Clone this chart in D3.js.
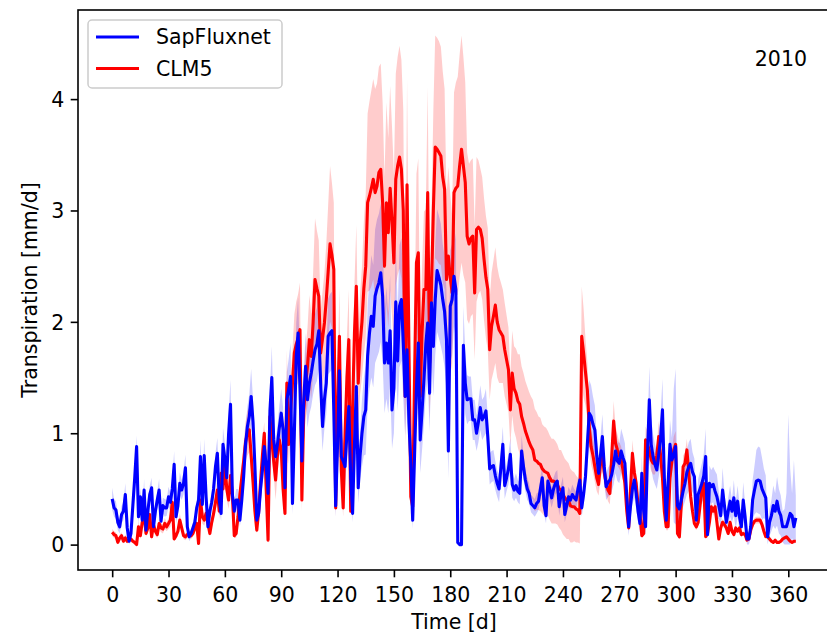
<!DOCTYPE html>
<html lang="en">
<head>
<meta charset="UTF-8" />
<title>Transpiration 2010</title>
<style>
  html, body { margin: 0; padding: 0; background: #fff; }
  svg { display: block; font-family: "DejaVu Sans", sans-serif; }
</style>
</head>
<body>
<svg width="827" height="636"></svg>
<script src="https://d3js.org/d3.v7.min.js"></script>
<script>
// daily transpiration [mm/d], day 0..364
const sapflux = [
  0.41,0.33,0.31,0.20,0.16,0.27,0.30,0.45,0.15,0.03,
  0.10,0.35,0.60,0.88,0.25,0.43,0.22,0.49,0.13,0.30,
  0.45,0.51,0.16,0.30,0.40,0.49,0.21,0.35,0.33,0.33,
  0.43,0.38,0.50,0.72,0.25,0.35,0.55,0.49,0.55,0.69,
  0.16,0.07,0.10,0.15,0.20,0.33,0.40,0.79,0.36,0.80,
  0.43,0.16,0.30,0.38,0.50,0.70,0.82,0.40,0.28,0.90,
  0.77,0.60,1.00,1.26,0.45,0.30,0.40,0.40,0.22,0.40,
  0.61,0.90,1.06,1.15,1.33,1.10,0.70,0.22,0.28,0.50,
  0.67,0.88,0.70,0.46,1.20,1.50,0.94,0.79,0.90,1.05,
  1.18,1.03,0.51,1.30,1.40,1.51,0.37,1.00,1.69,1.90,
  1.40,0.75,1.30,1.60,1.30,1.45,1.54,1.65,1.75,1.80,
  1.92,1.45,1.06,1.30,1.45,1.87,1.90,1.92,1.20,0.35,
  0.90,1.56,0.79,0.75,0.70,1.00,1.24,0.60,0.28,0.90,
  1.42,0.51,0.80,1.00,1.15,1.21,1.69,1.90,2.05,1.96,
  2.23,2.30,2.35,2.44,2.23,1.63,1.81,1.63,1.92,1.21,
  1.40,2.18,1.65,2.14,2.20,1.80,1.33,1.75,1.10,0.73,
  0.22,0.80,1.40,1.81,0.94,1.20,1.48,1.80,1.99,1.36,
  2.17,1.78,2.20,2.46,2.40,2.33,2.20,2.09,1.84,0.84,
  2.14,2.20,2.41,2.29,0.02,0.00,0.00,1.79,1.45,1.30,
  1.31,1.31,1.12,1.12,1.00,1.10,1.23,1.12,1.15,1.20,
  0.97,0.68,0.70,0.71,0.62,0.55,0.50,0.70,0.90,0.53,
  0.60,0.68,0.81,0.54,0.49,0.53,0.48,0.46,0.84,0.70,
  0.58,0.50,0.46,0.37,0.35,0.33,0.37,0.39,0.50,0.60,
  0.35,0.26,0.57,0.50,0.42,0.50,0.55,0.57,0.34,0.45,
  0.51,0.27,0.35,0.43,0.40,0.45,0.42,0.40,0.50,0.58,
  0.33,0.45,0.61,0.90,1.18,1.15,1.08,1.03,0.80,0.64,
  0.80,0.97,0.70,0.52,0.56,0.58,0.63,0.72,0.84,0.75,
  0.73,0.84,0.78,0.73,0.43,0.16,0.35,0.50,0.58,0.46,
  0.30,0.19,0.64,0.30,0.16,0.80,1.30,0.90,0.79,0.72,
  0.67,0.81,0.95,1.21,0.60,0.22,0.55,0.90,0.76,0.80,
  0.88,0.35,0.32,0.40,0.48,0.55,0.65,0.70,0.73,0.65,
  0.61,0.22,0.45,0.50,0.55,0.62,0.79,0.09,0.55,0.52,
  0.54,0.48,0.43,0.35,0.26,0.49,0.35,0.20,0.30,0.39,
  0.30,0.42,0.26,0.39,0.25,0.16,0.40,0.25,0.05,0.05,
  0.16,0.40,0.49,0.57,0.58,0.57,0.50,0.46,0.42,0.07,
  0.20,0.26,0.35,0.30,0.39,0.30,0.26,0.16,0.16,0.16,
  0.22,0.28,0.26,0.16,0.24
];

const sapfluxSpread = [
  0.10,0.08,0.08,0.07,0.06,0.08,0.08,0.10,0.06,0.04,
  0.05,0.08,0.10,0.10,0.07,0.08,0.06,0.10,0.05,0.06,
  0.08,0.09,0.05,0.07,0.08,0.10,0.06,0.07,0.08,0.07,
  0.09,0.08,0.09,0.12,0.06,0.08,0.10,0.09,0.10,0.12,
  0.05,0.04,0.04,0.05,0.06,0.07,0.08,0.15,0.08,0.15,
  0.09,0.05,0.07,0.08,0.10,0.12,0.14,0.08,0.07,0.15,
  0.14,0.12,0.18,0.22,0.10,0.08,0.10,0.10,0.06,0.10,
  0.12,0.15,0.18,0.20,0.25,0.20,0.14,0.06,0.07,0.10,
  0.14,0.16,0.14,0.10,0.20,0.28,0.18,0.15,0.17,0.20,
  0.22,0.20,0.12,0.25,0.27,0.30,0.10,0.20,0.30,0.32,
  0.27,0.16,0.25,0.30,0.25,0.28,0.30,0.30,0.32,0.33,
  0.35,0.28,0.22,0.26,0.28,0.34,0.35,0.35,0.25,0.10,
  0.20,0.32,0.20,0.18,0.18,0.22,0.26,0.15,0.08,0.20,
  0.30,0.14,0.22,0.30,0.35,0.40,0.45,0.50,0.55,0.55,
  0.60,0.62,0.62,0.62,0.60,0.45,0.50,0.45,0.50,0.35,
  0.40,0.55,0.45,0.55,0.55,0.50,0.35,0.45,0.30,0.20,
  0.08,0.25,0.40,0.45,0.30,0.35,0.40,0.45,0.50,0.35,
  0.50,0.45,0.50,0.55,0.55,0.55,0.50,0.50,0.45,0.25,
  0.50,0.50,0.45,0.45,0.00,0.00,0.00,0.35,0.28,0.22,
  0.20,0.20,0.18,0.18,0.16,0.18,0.20,0.18,0.18,0.20,
  0.17,0.14,0.14,0.14,0.13,0.12,0.12,0.14,0.16,0.12,
  0.12,0.14,0.15,0.12,0.10,0.11,0.10,0.10,0.14,0.12,
  0.10,0.10,0.09,0.08,0.08,0.08,0.09,0.08,0.10,0.12,
  0.08,0.07,0.10,0.10,0.09,0.10,0.10,0.10,0.08,0.09,
  0.10,0.07,0.08,0.09,0.08,0.09,0.08,0.08,0.09,0.10,
  0.08,0.09,0.12,0.18,0.30,0.28,0.25,0.22,0.16,0.14,
  0.16,0.20,0.15,0.12,0.13,0.14,0.15,0.18,0.20,0.18,
  0.18,0.20,0.20,0.18,0.12,0.08,0.10,0.14,0.16,0.14,
  0.10,0.08,0.16,0.10,0.08,0.20,0.30,0.22,0.20,0.18,
  0.17,0.20,0.22,0.28,0.15,0.08,0.14,0.22,0.20,0.60,
  0.70,0.12,0.10,0.12,0.14,0.16,0.20,0.22,0.22,0.18,
  0.16,0.08,0.14,0.16,0.18,0.20,0.25,0.05,0.16,0.15,
  0.16,0.18,0.20,0.12,0.10,0.20,0.12,0.10,0.12,0.14,
  0.10,0.16,0.12,0.14,0.12,0.10,0.16,0.12,0.05,0.06,
  0.10,0.18,0.22,0.28,0.30,0.30,0.28,0.22,0.20,0.08,
  0.12,0.14,0.18,0.16,0.22,0.20,0.18,0.14,0.16,0.30,
  0.95,0.40,0.20,0.60,0.20
];

const clm5 = [
  0.11,0.09,0.08,0.02,0.06,0.08,0.03,0.06,0.03,0.04,
  0.05,0.03,0.02,0.00,0.16,0.08,0.20,0.28,0.10,0.15,
  0.27,0.07,0.18,0.12,0.09,0.19,0.15,0.14,0.19,0.16,
  0.19,0.22,0.38,0.05,0.08,0.12,0.22,0.15,0.08,0.07,
  0.09,0.10,0.08,0.10,0.15,0.19,0.01,0.40,0.25,0.22,
  0.28,0.19,0.10,0.20,0.28,0.38,0.49,0.30,0.64,0.50,
  0.74,0.50,0.40,0.62,0.45,0.08,0.10,0.25,0.45,0.60,
  0.75,0.92,1.00,1.03,0.80,0.56,0.30,0.13,0.30,0.56,
  0.80,1.00,0.50,0.04,1.15,0.94,0.75,0.58,0.80,0.94,
  0.85,0.50,0.28,1.45,0.90,1.20,1.45,1.72,1.80,1.85,
  1.93,0.40,1.20,1.45,1.60,1.84,1.69,2.00,2.38,2.30,
  2.23,1.72,1.85,1.99,2.20,2.45,2.70,2.60,2.47,0.33,
  1.20,1.87,0.67,0.33,1.00,1.50,1.84,0.30,1.20,1.90,
  2.32,1.45,1.80,2.00,2.30,2.50,3.07,3.13,3.20,3.28,
  3.16,3.22,3.34,3.37,3.07,2.50,3.07,2.80,3.20,2.90,
  2.53,3.28,3.40,3.48,3.37,3.00,1.33,3.23,1.78,0.43,
  0.34,1.50,2.53,2.62,1.33,1.90,2.29,2.29,3.16,1.63,
  2.29,3.00,3.57,3.55,3.52,3.49,3.30,3.19,2.38,2.59,
  2.40,2.26,3.16,3.20,3.22,3.40,3.55,3.40,3.25,2.77,
  2.70,2.75,2.77,2.26,2.83,2.85,2.83,2.75,2.56,2.40,
  2.29,1.75,1.96,2.05,2.15,2.00,1.93,1.90,1.87,1.75,
  1.66,1.57,1.21,1.54,1.40,1.36,1.29,1.26,1.15,1.09,
  1.02,0.97,0.92,0.88,0.85,0.76,0.75,0.73,0.72,0.68,
  0.66,0.65,0.64,0.60,0.57,0.57,0.56,0.54,0.50,0.49,
  0.45,0.42,0.40,0.39,0.35,0.34,0.34,0.32,0.31,0.28,
  1.87,1.72,1.55,1.39,1.06,0.88,0.80,0.70,0.60,0.54,
  0.73,0.80,0.65,0.55,0.49,0.46,0.80,1.11,0.91,0.85,
  0.80,0.76,0.67,0.55,0.30,0.15,0.50,0.82,0.65,0.55,
  0.35,0.28,0.08,0.10,0.94,0.90,0.85,0.76,0.73,0.73,
  0.80,0.97,0.80,0.60,0.30,0.16,0.16,0.60,0.75,0.85,
  0.90,0.10,0.07,0.35,0.70,0.73,0.85,0.65,0.43,0.30,
  0.19,0.16,0.20,0.35,0.50,0.55,0.07,0.10,0.20,0.34,
  0.30,0.34,0.20,0.05,0.15,0.20,0.18,0.15,0.10,0.20,
  0.12,0.09,0.15,0.12,0.15,0.09,0.10,0.09,0.04,0.05,
  0.13,0.18,0.21,0.22,0.22,0.22,0.18,0.12,0.07,0.07,
  0.05,0.03,0.02,0.04,0.02,0.02,0.03,0.05,0.06,0.07,
  0.05,0.03,0.02,0.03,0.03
];

const clm5Spread = [
  0.03,0.03,0.03,0.02,0.03,0.03,0.02,0.03,0.02,0.02,
  0.02,0.02,0.02,0.01,0.05,0.03,0.05,0.06,0.03,0.04,
  0.06,0.03,0.05,0.04,0.03,0.05,0.04,0.04,0.05,0.04,
  0.05,0.06,0.08,0.02,0.03,0.04,0.06,0.04,0.03,0.03,
  0.03,0.03,0.03,0.03,0.04,0.05,0.01,0.08,0.06,0.05,
  0.06,0.05,0.03,0.05,0.06,0.08,0.10,0.07,0.12,0.10,
  0.14,0.10,0.08,0.12,0.10,0.02,0.04,0.06,0.10,0.12,
  0.15,0.18,0.20,0.20,0.16,0.12,0.06,0.03,0.06,0.12,
  0.16,0.10,0.02,0.20,0.18,0.15,0.12,0.18,0.18,0.12,
  0.10,0.06,0.04,0.30,0.18,0.25,0.30,0.35,0.38,0.40,
  0.42,0.10,0.28,0.32,0.35,0.40,0.38,0.45,0.55,0.52,
  0.50,0.38,0.42,0.45,0.50,0.60,0.70,0.65,0.60,0.08,
  0.30,0.45,0.18,0.08,0.25,0.38,0.45,0.07,0.30,0.45,
  0.55,0.35,0.45,0.50,0.60,0.65,0.80,0.85,0.88,0.90,
  0.93,0.92,0.95,0.95,0.90,0.80,0.90,0.85,0.92,0.85,
  0.80,0.95,0.98,1.00,0.98,0.90,0.45,0.95,0.55,0.15,
  0.12,0.45,0.80,0.85,0.45,0.60,0.70,0.72,0.95,0.50,
  0.70,0.90,1.00,1.00,1.00,0.98,0.95,0.90,0.75,0.80,
  0.75,0.70,0.90,0.95,0.98,1.00,1.02,0.98,0.90,0.75,
  0.72,0.70,0.70,0.60,0.65,0.60,0.55,0.55,0.55,0.55,
  0.55,0.45,0.48,0.50,0.52,0.50,0.48,0.45,0.42,0.42,
  0.40,0.38,0.32,0.38,0.38,0.40,0.42,0.45,0.45,0.45,
  0.45,0.45,0.45,0.45,0.45,0.46,0.44,0.42,0.42,0.40,
  0.40,0.40,0.38,0.38,0.38,0.38,0.37,0.36,0.35,0.36,
  0.36,0.35,0.35,0.34,0.33,0.32,0.31,0.30,0.29,0.27,
  0.45,0.40,0.30,0.25,0.20,0.16,0.15,0.14,0.12,0.10,
  0.14,0.14,0.12,0.10,0.10,0.10,0.14,0.18,0.16,0.14,
  0.12,0.12,0.10,0.08,0.05,0.03,0.08,0.12,0.10,0.08,
  0.05,0.04,0.02,0.02,0.12,0.12,0.12,0.10,0.10,0.10,
  0.10,0.14,0.10,0.08,0.05,0.03,0.03,0.08,0.10,0.12,
  0.12,0.02,0.02,0.05,0.10,0.10,0.10,0.08,0.06,0.05,
  0.03,0.03,0.03,0.05,0.06,0.06,0.01,0.02,0.03,0.04,
  0.04,0.04,0.03,0.01,0.02,0.03,0.03,0.02,0.02,0.03,
  0.02,0.02,0.02,0.02,0.02,0.02,0.02,0.02,0.01,0.01,
  0.02,0.03,0.03,0.03,0.03,0.03,0.03,0.02,0.01,0.01,
  0.01,0.01,0.01,0.01,0.01,0.01,0.01,0.01,0.01,0.01,
  0.01,0.01,0.01,0.01,0.01
];

const days = d3.range(sapflux.length);
const xTicks = [0, 30, 60, 90, 120, 150, 180, 210, 240, 270, 300, 330, 360];
const yTicks = [0, 1, 2, 3, 4];
const yearLabel = "2010";

const series = [
  { name: "SapFluxnet", color: "#0000ff", values: sapflux, spread: sapfluxSpread },
  { name: "CLM5", color: "#ff0000", values: clm5, spread: clm5Spread }
];

const fontSize = 20.5;
const margin = { left: 78, top: 10 };
const plotW = 752, plotH = 560;

const svg = d3.select("svg");

const x = d3.scaleLinear().domain([-18.2, 382.2]).range([margin.left, margin.left + plotW]);
const y = d3.scaleLinear().domain([-0.228, 4.80]).range([margin.top + plotH, margin.top]);

svg.append("defs").append("clipPath").attr("id", "plotclip")
  .append("rect")
  .attr("x", margin.left).attr("y", margin.top)
  .attr("width", plotW).attr("height", plotH);

const plot = svg.append("g").attr("clip-path", "url(#plotclip)");

const rows = s => days.map(d => ({ day: d, v: s.values[d], s: s.spread[d] }));

const band = d3.area()
  .x(d => x(d.day))
  .y0(d => y(Math.max(0, d.v - d.s)))
  .y1(d => y(d.v + d.s));

const line = d3.line()
  .x(d => x(d.day))
  .y(d => y(d.v));

// bands first, then lines (blue on top)
series.forEach(s => {
  plot.append("path")
    .datum(rows(s))
    .attr("d", band)
    .attr("fill", s.color)
    .attr("fill-opacity", 0.2)
    .attr("stroke", "none");
});

[series[1], series[0]].forEach(s => {
  plot.append("path")
    .datum(rows(s))
    .attr("d", line)
    .attr("fill", "none")
    .attr("stroke", s.color)
    .attr("stroke-width", 3.1)
    .attr("stroke-linejoin", "round");
});

// axes
const xAxis = svg.append("g")
  .attr("transform", `translate(0,${margin.top + plotH})`)
  .call(d3.axisBottom(x).tickValues(xTicks).tickFormat(d3.format("d"))
    .tickSize(7.3).tickSizeOuter(0).tickPadding(10.5));

const yAxis = svg.append("g")
  .attr("transform", `translate(${margin.left},0)`)
  .call(d3.axisLeft(y).tickValues(yTicks).tickFormat(d3.format("d"))
    .tickSize(7.3).tickSizeOuter(0).tickPadding(6.5));

[xAxis, yAxis].forEach(ax => {
  ax.select(".domain").remove();
  ax.selectAll(".tick line").attr("stroke", "#000").attr("stroke-width", 1.6);
  ax.selectAll(".tick text")
    .attr("fill", "#000")
    .style("font-family", '"DejaVu Sans", sans-serif')
    .style("font-size", fontSize + "px");
});
yAxis.selectAll(".tick text").attr("dy", "0.36em");

// frame
svg.append("rect")
  .attr("x", margin.left).attr("y", margin.top)
  .attr("width", plotW).attr("height", plotH)
  .attr("fill", "none")
  .attr("stroke", "#000")
  .attr("stroke-width", 1.6);

// axis labels
svg.append("text")
  .attr("x", margin.left + plotW / 2)
  .attr("y", 629)
  .attr("text-anchor", "middle")
  .style("font-size", fontSize + "px")
  .text("Time [d]");

svg.append("text")
  .attr("transform", `translate(37,${margin.top + plotH / 2}) rotate(-90)`)
  .attr("text-anchor", "middle")
  .style("font-size", fontSize + "px")
  .text("Transpiration [mm/d]");

// year label
svg.append("text")
  .attr("x", margin.left + 0.9 * plotW)
  .attr("y", margin.top + 0.1 * plotH)
  .style("font-size", fontSize + "px")
  .text(yearLabel);

// legend
const legend = svg.append("g");
legend.append("rect")
  .attr("x", 88).attr("y", 20)
  .attr("width", 194).attr("height", 68)
  .attr("rx", 4)
  .attr("fill", "#fff")
  .attr("fill-opacity", 0.8)
  .attr("stroke", "#cccccc")
  .attr("stroke-width", 1.5);

series.forEach((s, i) => {
  const cy = 37 + i * 31.5;
  legend.append("line")
    .attr("x1", 96).attr("x2", 139)
    .attr("y1", cy).attr("y2", cy)
    .attr("stroke", s.color)
    .attr("stroke-width", 3.1);
  legend.append("text")
    .attr("x", 156)
    .attr("y", cy + 7.3)
    .style("font-size", fontSize + "px")
    .text(s.name);
});
</script>
</body>
</html>
